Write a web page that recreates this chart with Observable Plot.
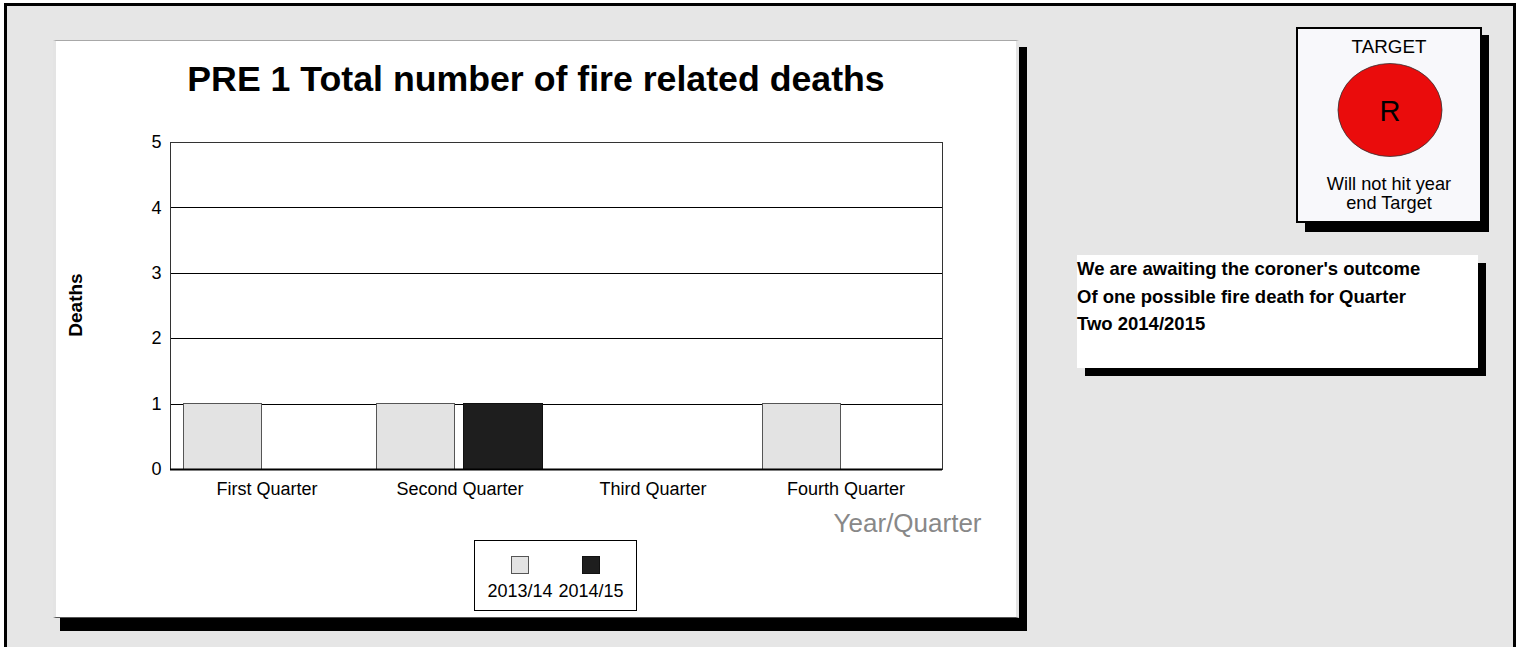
<!DOCTYPE html>
<html>
<head>
<meta charset="utf-8">
<script src="https://cdn.jsdelivr.net/npm/d3@7"></script>
<script src="https://cdn.jsdelivr.net/npm/@observablehq/plot@0.6"></script>
<style>
  html, body { margin: 0; padding: 0; width: 1516px; height: 647px; overflow: hidden; background: #fff; font-family: "Liberation Sans", Arial, sans-serif; }
  .abs { position: absolute; }
  #outer { left: 4px; top: 3px; width: 1506px; height: 700px; border: 3px solid #000; background: #e6e6e6; box-sizing: content-box; }
</style>
</head>
<body>
<div id="outer" class="abs"></div>
<div class="abs" style="left:60px;top:47px;width:967px;height:584px;background:#000;"></div>
<div id="panel" class="abs" style="left:53px;top:40px;width:966px;height:578px;background:#fff;box-sizing:border-box;border-top:1px solid #a8a8a8;border-left:3px solid #e4e4e4;border-right:3px solid #e4e4e4;border-bottom:1px solid #555;"></div>
<div id="title" class="abs" style="left:53px;top:59px;width:966px;text-align:center;font-weight:bold;font-size:35.7px;line-height:40px;color:#000;"></div>
<div id="chart" class="abs" style="left:56px;top:100px;"></div>
<div id="legend" class="abs"></div>

<!-- target box -->
<div class="abs" style="left:1305px;top:35px;width:184px;height:197px;background:#000;"></div>
<div id="target" class="abs" style="left:1296px;top:27px;width:186px;height:196px;background:#f8f8fb;border:2px solid #000;box-sizing:border-box;"></div>

<!-- note box -->
<div class="abs" style="left:1085px;top:263px;width:401px;height:113px;background:#000;"></div>
<div id="note" class="abs" style="left:1077px;top:255px;width:401px;height:113px;background:#fff;font-weight:bold;font-size:18.5px;line-height:27.5px;color:#000;white-space:nowrap;"></div>

<script>
const chartTitle = "PRE 1 Total number of fire related deaths";
const quarters = ["First Quarter", "Second Quarter", "Third Quarter", "Fourth Quarter"];
const series = ["2013/14", "2014/15"];
const deaths201314 = [1, 1, 0, 1];
const deaths201415 = [0, 1, 0, 0];
const seriesColors = ["#e3e3e3", "#1e1e1e"];
const seriesStrokes = ["#555555", "#111111"];
const yTicks = [0, 1, 2, 3, 4, 5];
const yLabel = "Deaths";
const xLabel = "Year/Quarter";
const targetTitle = "TARGET";
const targetStatus = "R";
const targetLines = ["Will not hit year", "end Target"];
const noteLines = ["We are awaiting the coroner's outcome", "Of one possible fire death for Quarter", "Two 2014/2015"];

const rows = [];
quarters.forEach((q, i) => {
  rows.push({quarter: q, series: series[0], value: deaths201314[i]});
  rows.push({quarter: q, series: series[1], value: deaths201415[i]});
});

document.getElementById("title").textContent = chartTitle;

const font = "'Liberation Sans', Arial, sans-serif";
const plot = Plot.plot({
  width: 960,
  height: 440,
  marginLeft: 114,
  marginRight: 74,
  marginTop: 42,
  marginBottom: 71,
  style: {fontFamily: font, fontSize: "18px", background: "transparent", color: "#000", overflow: "visible"},
  x: {domain: quarters, padding: 0, label: null, tickSize: 0, tickPadding: 13},
  y: {domain: [0, 5], ticks: yTicks, tickFormat: d => String(d), label: null, tickSize: 0, tickPadding: 9},
  color: {domain: series, range: seriesColors},
  marks: [
    Plot.gridY(yTicks, {stroke: "#000", strokeOpacity: 1, shapeRendering: "crispEdges"}),
    Plot.barY(rows.filter(d => d.series === series[0]), {
      x: "quarter", y: "value", fill: "series", stroke: seriesStrokes[0], strokeWidth: 1,
      insetLeft: 13, insetRight: 102, shapeRendering: "crispEdges"
    }),
    Plot.barY(rows.filter(d => d.series === series[1]), {
      x: "quarter", y: "value", fill: "series", stroke: seriesStrokes[1], strokeWidth: 1,
      insetLeft: 100, insetRight: 14, shapeRendering: "crispEdges"
    }),
    Plot.frame({stroke: "#333", shapeRendering: "crispEdges"}),
    Plot.ruleY([0], {stroke: "#000", strokeWidth: 2}),
    Plot.text([xLabel], {text: d => d, frameAnchor: "bottom-right", textAnchor: "end", lineAnchor: "middle", dx: 39, dy: 54, fontSize: 26, fill: "#888"}),
    Plot.text([yLabel], {text: d => d, frameAnchor: "left", textAnchor: "middle", rotate: -90, lineAnchor: "middle", dx: -95, dy: -1, fontSize: 19, fontWeight: "bold", fill: "#000"})
  ]
});
document.getElementById("chart").appendChild(plot);

// Legend (built from series arrays)
const legend = document.getElementById("legend");
Object.assign(legend.style, {left: "474px", top: "540px", width: "163px", height: "71px", border: "1px solid #000", background: "#fff", boxSizing: "border-box"});
const centers = [45, 116];
series.forEach((s, i) => {
  const sw = document.createElement("div");
  Object.assign(sw.style, {position: "absolute", left: (centers[i] - 9) + "px", top: "15px", width: "16px", height: "16px", background: seriesColors[i], border: "1px solid " + seriesStrokes[i]});
  legend.appendChild(sw);
  const lb = document.createElement("div");
  lb.textContent = s;
  Object.assign(lb.style, {position: "absolute", left: (centers[i] - 40) + "px", width: "80px", top: "40px", textAlign: "center", fontSize: "18px", lineHeight: "20px"});
  legend.appendChild(lb);
});

// Target box
const ns = "http://www.w3.org/2000/svg";
const tsvg = document.createElementNS(ns, "svg");
tsvg.setAttribute("width", 182); tsvg.setAttribute("height", 192);
tsvg.style.position = "absolute"; tsvg.style.left = "0px"; tsvg.style.top = "0px";
tsvg.style.fontFamily = font;
function addText(x, y, txt, size) {
  const t = document.createElementNS(ns, "text");
  t.setAttribute("x", x); t.setAttribute("y", y);
  t.setAttribute("text-anchor", "middle"); t.setAttribute("font-size", size);
  t.textContent = txt; tsvg.appendChild(t);
}
// box inner origin at (1298, 29)
addText(1389 - 1298, 53 - 29, targetTitle, 18.8);
const el = document.createElementNS(ns, "ellipse");
el.setAttribute("cx", 1390 - 1298); el.setAttribute("cy", 110 - 29);
el.setAttribute("rx", 52); el.setAttribute("ry", 46.5);
el.setAttribute("fill", "#ea0c0c"); el.setAttribute("stroke", "#333"); el.setAttribute("stroke-width", 0.8);
tsvg.appendChild(el);
addText(1390 - 1298, 121 - 29, targetStatus, 29);
addText(1389 - 1298, 190 - 29, targetLines[0], 18.2);
addText(1389 - 1298, 209 - 29, targetLines[1], 18.2);
document.getElementById("target").appendChild(tsvg);

// Note box
const note = document.getElementById("note");
noteLines.forEach(l => { const d = document.createElement("div"); d.textContent = l; note.appendChild(d); });
</script>
</body>
</html>
